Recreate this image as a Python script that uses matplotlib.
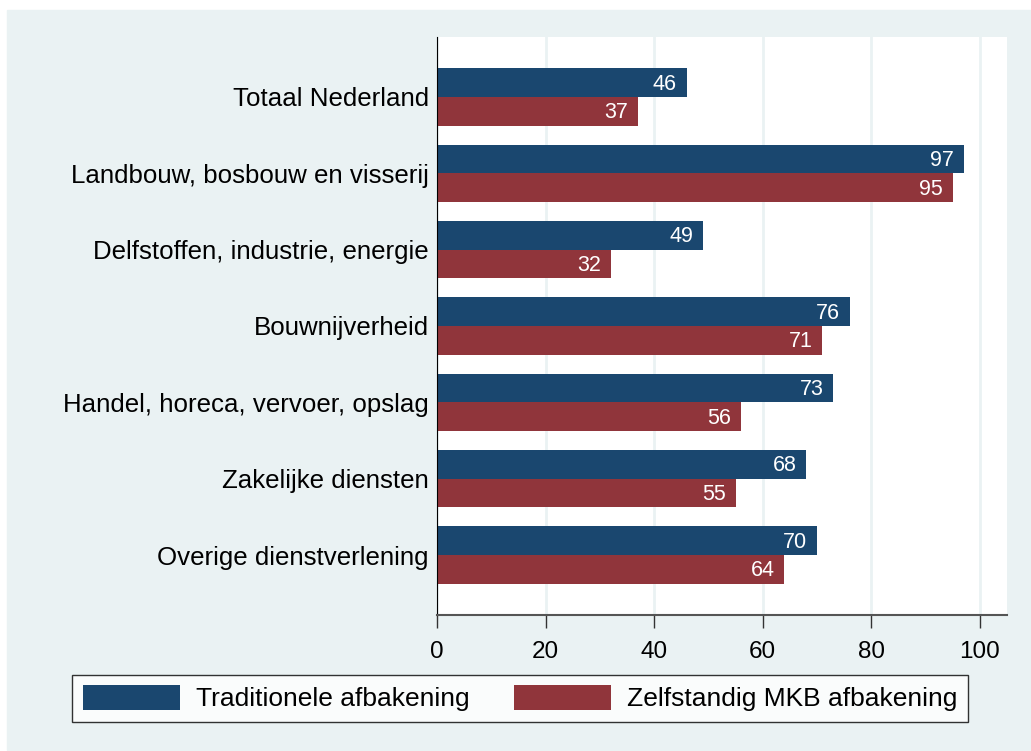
import numpy as np
import matplotlib.pyplot as plt
from matplotlib.patches import Rectangle

plt.rcParams['font.family'] = ['Liberation Sans', 'DejaVu Sans']

categories = ['Totaal Nederland', 'Landbouw, bosbouw en visserij',
              'Delfstoffen, industrie, energie', 'Bouwnijverheid',
              'Handel, horeca, vervoer, opslag', 'Zakelijke diensten',
              'Overige dienstverlening']
traditioneel = [46, 97, 49, 76, 73, 68, 70]
zelfstandig = [37, 95, 32, 71, 56, 55, 64]
xticks = [0, 20, 40, 60, 80, 100]

blue = '#1a476f'
red = '#90353b'
bg = '#eaf2f3'

fig = plt.figure(figsize=(10.31, 7.51), dpi=100)
fig.patches.append(Rectangle((7/1031, 1/751), 1 - 7/1031, 1 - 11/751,
                             transform=fig.transFigure, color=bg, zorder=-1))

ax = fig.add_axes([437/1031, 1 - 615/751, 570/1031, 578/751])
y = np.arange(len(categories))
h = 0.374
b1 = ax.barh(y - h/2, traditioneel, height=h, color=blue, label='Traditionele afbakening')
b2 = ax.barh(y + h/2, zelfstandig, height=h, color=red, label='Zelfstandig MKB afbakening')

for bars in (b1, b2):
    for r in bars:
        ax.text(r.get_width() - 1.8, r.get_y() + r.get_height()/2 + 0.02,
                '%d' % r.get_width(), color='white', fontsize=15.5,
                ha='right', va='center')

ax.set_xlim(0, 105)
ax.set_ylim(len(categories) - 1 + 0.786, -0.786)
ax.set_yticks(y)
ax.set_yticklabels(categories, fontsize=18.6)
ax.tick_params(axis='y', length=0, pad=6)
ax.set_xticks(xticks)
ax.tick_params(axis='x', labelsize=17.5, length=9, width=1, color='#333333', pad=10)
ax.xaxis.grid(True, color=bg, lw=2)
ax.set_axisbelow(True)
for s in ('top', 'right'):
    ax.spines[s].set_visible(False)
ax.spines['left'].set_color('black')
ax.spines['bottom'].set_color('#555555')
ax.spines['bottom'].set_linewidth(1.5)

leg = fig.legend(handles=[b1, b2], loc='lower left', ncol=2, mode='expand',
                 bbox_to_anchor=(72/1031, 1 - 722/751, 896/1031, 49/751),
                 fontsize=19, frameon=True, fancybox=False, edgecolor='black',
                 handlelength=3.7, handleheight=1.05, handletextpad=0.6,
                 borderaxespad=0, borderpad=0.4)
leg.get_frame().set_linewidth(1)

fig.savefig('out.png', dpi=100)
